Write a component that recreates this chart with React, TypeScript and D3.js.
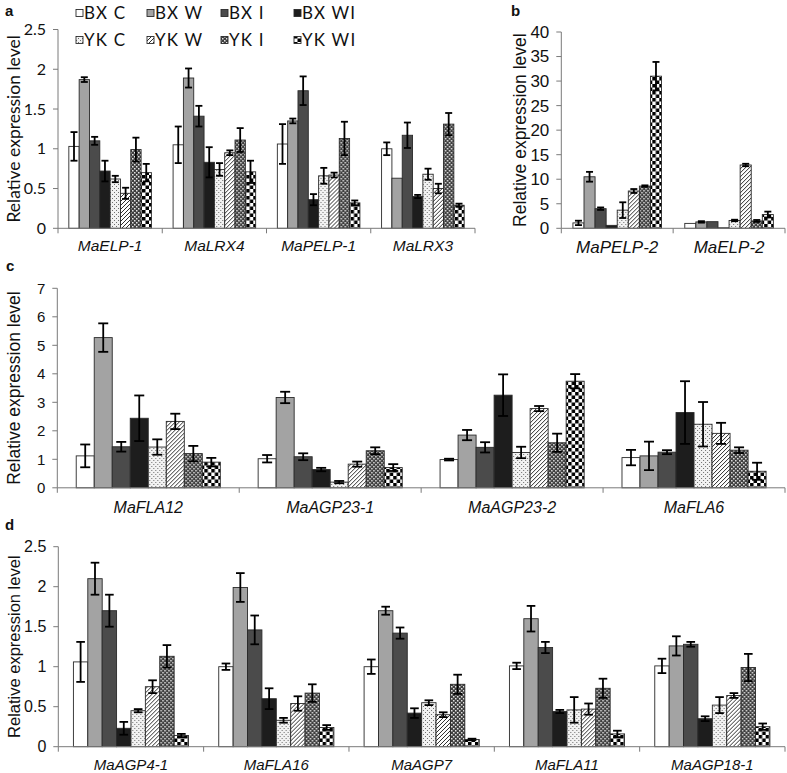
import React, { useEffect } from "react";
import * as d3 from "d3";

const SERIES = ["BX C", "BX W", "BX I", "BX WI", "YK C", "YK W", "YK I", "YK WI"];

const genesA = ["MaELP-1", "MaLRX4", "MaPELP-1", "MaLRX3"];
const valuesA = [
  [1.03, 1.87, 1.10, 0.72, 0.62, 0.44, 0.99, 0.70],
  [1.05, 1.89, 1.41, 0.83, 0.74, 0.95, 1.11, 0.71],
  [1.06, 1.35, 1.73, 0.36, 0.66, 0.67, 1.13, 0.32],
  [1.00, 0.63, 1.17, 0.40, 0.68, 0.50, 1.31, 0.29],
];
const errorsA = [
  [0.18, 0.03, 0.05, 0.13, 0.04, 0.07, 0.15, 0.11],
  [0.23, 0.12, 0.13, 0.19, 0.08, 0.03, 0.15, 0.14],
  [0.25, 0.03, 0.18, 0.07, 0.10, 0.03, 0.21, 0.03],
  [0.08, 0, 0.16, 0.02, 0.07, 0.06, 0.14, 0.02],
];
const ticksA = [0, 0.5, 1, 1.5, 2, 2.5];

const genesB = ["MaPELP-2", "MaELP-2"];
const valuesB = [
  [1.1, 10.5, 4.0, 0.6, 3.7, 7.6, 8.6, 31.0],
  [1.0, 1.3, 1.35, 0.1, 1.6, 12.9, 1.5, 2.8],
];
const errorsB = [
  [0.45, 1.0, 0.25, 0, 1.6, 0.4, 0.15, 2.9],
  [0, 0.15, 0, 0, 0.15, 0.25, 0.2, 0.6],
];
const ticksB = [0, 5, 10, 15, 20, 25, 30, 35, 40];

const genesC = ["MaFLA12", "MaAGP23-1", "MaAGP23-2", "MaFLA6"];
const valuesC = [
  [1.12, 5.27, 1.44, 2.44, 1.43, 2.33, 1.20, 0.90],
  [1.02, 3.17, 1.09, 0.64, 0.20, 0.83, 1.30, 0.71],
  [0.99, 1.85, 1.42, 3.25, 1.24, 2.78, 1.58, 3.74],
  [1.06, 1.12, 1.25, 2.64, 2.23, 1.91, 1.32, 0.58],
];
const errorsC = [
  [0.40, 0.50, 0.17, 0.80, 0.27, 0.27, 0.27, 0.15],
  [0.13, 0.20, 0.12, 0.06, 0.04, 0.09, 0.12, 0.12],
  [0.03, 0.18, 0.18, 0.73, 0.20, 0.09, 0.32, 0.25],
  [0.27, 0.50, 0.07, 1.10, 0.78, 0.37, 0.10, 0.30],
];
const ticksC = [0, 1, 2, 3, 4, 5, 6, 7];

const genesD = ["MaAGP4-1", "MaFLA16", "MaAGP7", "MaFLA11", "MaAGP18-1"];
const valuesD = [
  [1.06, 2.10, 1.70, 0.23, 0.45, 0.75, 1.13, 0.14],
  [1.00, 1.99, 1.46, 0.60, 0.33, 0.54, 0.67, 0.24],
  [1.00, 1.70, 1.42, 0.42, 0.55, 0.40, 0.78, 0.09],
  [1.01, 1.60, 1.24, 0.44, 0.46, 0.47, 0.73, 0.16],
  [1.01, 1.26, 1.28, 0.35, 0.52, 0.64, 0.99, 0.25],
];
const errorsD = [
  [0.25, 0.20, 0.20, 0.08, 0.02, 0.08, 0.14, 0.02],
  [0.04, 0.18, 0.18, 0.13, 0.03, 0.09, 0.11, 0.03],
  [0.09, 0.05, 0.07, 0.06, 0.03, 0.03, 0.12, 0.01],
  [0.04, 0.16, 0.07, 0.02, 0.16, 0.07, 0.12, 0.04],
  [0.09, 0.12, 0.03, 0.03, 0.10, 0.03, 0.17, 0.04],
];
const ticksD = [0, 0.5, 1, 1.5, 2, 2.5];

const FILLS = [
  "#ffffff",
  "#a3a3a3",
  "#4b4b4b",
  "#1d1d1d",
  "url(#pDots)",
  "url(#pHatch)",
  "url(#pMesh)",
  "url(#pCheck)",
];

const ARIAL = "'Liberation Sans', Arial, sans-serif";
const CALI = "Lato, 'Open Sans', sans-serif";

type PanelProps = {
  genes: string[];
  values: number[][];
  errors: number[][];
  ticks: number[];
  x0: number;
  x1: number;
  yTop: number;
  y0: number;
  tickFont: string;
  tickSize: number;
  catSize: number;
  catY: number;
  titleX: number;
  titleSize: number;
  titleFont: string;
  tickFmt?: (v: number) => string;
};

function Panel(p: PanelProps) {
  const maxT = p.ticks[p.ticks.length - 1];
  const y = d3.scaleLinear().domain([0, maxT]).range([p.y0, p.yTop]);
  const xc = d3.scaleBand<string>().domain(p.genes).range([p.x0, p.x1]);
  const bw = xc.bandwidth();
  const gap = (bw * 1.05) / 10.1;
  const xs = d3
    .scaleBand<string>()
    .domain(SERIES)
    .range([gap, bw - gap]);
  const barW = xs.bandwidth();
  const capW = Math.min(10, Math.max(7, barW * 0.6));
  const fmt = p.tickFmt || ((v: number) => String(v));
  const boundaries = p.genes.map((g) => xc(g) as number).concat([p.x1]);
  const axisColor = "#7a7a7a";
  return (
    <g>
      {/* y axis */}
      <line x1={p.x0} x2={p.x0} y1={p.yTop} y2={p.y0} stroke={axisColor} strokeWidth={1} />
      {p.ticks.map((t) => (
        <g key={"t" + t}>
          <line x1={p.x0 - 5} x2={p.x0} y1={y(t)} y2={y(t)} stroke={axisColor} strokeWidth={1} />
          <text
            x={p.x0 - 12}
            y={y(t)}
            dy="0.35em"
            textAnchor="end"
            fontFamily={p.tickFont}
            fontSize={p.tickSize}
            fill="#111"
          >
            {fmt(t)}
          </text>
        </g>
      ))}
      <text
        transform={`translate(${p.titleX},${(p.y0 + p.yTop) / 2}) rotate(-90)`}
        textAnchor="middle"
        dy="0.35em"
        fontFamily={p.titleFont}
        fontSize={p.titleSize}
        fill="#111"
      >
        Relative expression level
      </text>
      {/* bars */}
      {p.genes.map((g, gi) => (
        <g key={g} transform={`translate(${xc(g)},0)`}>
          {SERIES.map((s, si) => {
            const v = p.values[gi][si];
            const e = p.errors[gi][si];
            const bx = xs(s) as number;
            const cx = bx + barW / 2;
            return (
              <g key={s}>
                <rect
                  x={bx}
                  y={y(v)}
                  width={barW}
                  height={p.y0 - y(v)}
                  fill={FILLS[si]}
                  stroke="#2a2a2a"
                  strokeWidth={0.9}
                />
                {e > 0 && (
                  <g stroke="#000" strokeWidth={1.8}>
                    <line x1={cx} x2={cx} y1={y(v + e)} y2={y(Math.max(0, v - e))} />
                    <line x1={cx - capW / 2} x2={cx + capW / 2} y1={y(v + e)} y2={y(v + e)} />
                    <line
                      x1={cx - capW / 2}
                      x2={cx + capW / 2}
                      y1={y(Math.max(0, v - e))}
                      y2={y(Math.max(0, v - e))}
                    />
                  </g>
                )}
              </g>
            );
          })}
          <text
            x={bw / 2}
            y={p.catY}
            dy="0.35em"
            textAnchor="middle"
            fontFamily={ARIAL}
            fontStyle="italic"
            fontSize={p.catSize}
            fill="#111"
          >
            {g}
          </text>
        </g>
      ))}
      {/* x axis */}
      <line x1={p.x0} x2={p.x1} y1={p.y0} y2={p.y0} stroke={axisColor} strokeWidth={1} />
      {boundaries.map((b, i) => (
        <line key={"b" + i} x1={b} x2={b} y1={p.y0} y2={p.y0 + 5} stroke={axisColor} strokeWidth={1} />
      ))}
    </g>
  );
}

const legendX = [76, 147, 221, 294];
const legendY = [13, 40];

export default function App() {
  useEffect(() => {
    document.body.style.margin = "0";
  }, []);
  return (
    <svg
      width={787}
      height={773}
      viewBox="0 0 787 773"
      style={{ position: "absolute", left: 0, top: 0, background: "#fff" }}
    >
      <defs>
        <pattern id="pDots" width={4} height={4} patternUnits="userSpaceOnUse">
          <rect width={4} height={4} fill="#f2f2f2" />
          <rect x={0} y={0} width={1} height={1} fill="#6e6e6e" />
          <rect x={2} y={2} width={1} height={1} fill="#6e6e6e" />
        </pattern>
        <pattern id="pHatch" width={4} height={4} patternUnits="userSpaceOnUse">
          <rect width={4} height={4} fill="#ffffff" />
          <path d="M-1,1 l2,-2 M0,4 l4,-4 M3,5 l2,-2" stroke="#2e2e2e" strokeWidth={1} />
        </pattern>
        <pattern id="pMesh" width={4} height={4} patternUnits="userSpaceOnUse">
          <rect width={4} height={4} fill="#3e3e3e" />
          <rect x={0} y={0} width={1.5} height={1.5} fill="#e6e6e6" />
          <rect x={2} y={2} width={1.5} height={1.5} fill="#e6e6e6" />
        </pattern>
        <pattern id="pCheck" width={7} height={7} patternUnits="userSpaceOnUse">
          <rect width={7} height={7} fill="#ffffff" />
          <rect x={0} y={0} width={3.5} height={3.5} fill="#000" />
          <rect x={3.5} y={3.5} width={3.5} height={3.5} fill="#000" />
        </pattern>
      </defs>
      <rect width={787} height={773} fill="#fff" />

      {/* panel labels */}
      <text x={5} y={16} fontFamily={ARIAL} fontWeight="bold" fontSize={15} fill="#111">a</text>
      <text x={511} y={16} fontFamily={ARIAL} fontWeight="bold" fontSize={15} fill="#111">b</text>
      <text x={6} y={271} fontFamily={ARIAL} fontWeight="bold" fontSize={15} fill="#111">c</text>
      <text x={5} y={530} fontFamily={ARIAL} fontWeight="bold" fontSize={15} fill="#111">d</text>

      {/* legend */}
      {SERIES.map((s, i) => {
        const lx = legendX[i % 4];
        const ly = legendY[Math.floor(i / 4)];
        return (
          <g key={"lg" + s}>
            <rect x={lx} y={ly - 3.5} width={7} height={7} fill={FILLS[i]} stroke="#2a2a2a" strokeWidth={0.9} />
            <text
              x={lx + 8}
              y={ly}
              dy="0.36em"
              fontFamily={CALI}
              fontSize={17}
              letterSpacing={1.2}
              fill="#111"
            >
              {s}
            </text>
          </g>
        );
      })}

      <Panel
        genes={genesA}
        values={valuesA}
        errors={errorsA}
        ticks={ticksA}
        x0={58}
        x1={475}
        yTop={29.5}
        y0={228.3}
        tickFont={CALI}
        tickSize={16}
        catSize={15.5}
        catY={246}
        titleX={14}
        titleSize={17.5}
        titleFont={CALI}
      />
      <Panel
        genes={genesB}
        values={valuesB}
        errors={errorsB}
        ticks={ticksB}
        x0={561.3}
        x1={785}
        yTop={32}
        y0={228.3}
        tickFont={ARIAL}
        tickSize={17}
        catSize={17}
        catY={247}
        titleX={520}
        titleSize={17.5}
        titleFont={ARIAL}
      />
      <Panel
        genes={genesC}
        values={valuesC}
        errors={errorsC}
        ticks={ticksC}
        x0={57.3}
        x1={785}
        yTop={288.3}
        y0={487.8}
        tickFont={ARIAL}
        tickSize={15}
        catSize={16}
        catY={507}
        titleX={14}
        titleSize={17.5}
        titleFont={ARIAL}
      />
      <Panel
        genes={genesD}
        values={valuesD}
        errors={errorsD}
        ticks={ticksD}
        x0={58.3}
        x1={785}
        yTop={546.7}
        y0={746.7}
        tickFont={ARIAL}
        tickSize={16}
        catSize={15}
        catY={765}
        titleX={14}
        titleSize={16.5}
        titleFont={ARIAL}
      />
    </svg>
  );
}
